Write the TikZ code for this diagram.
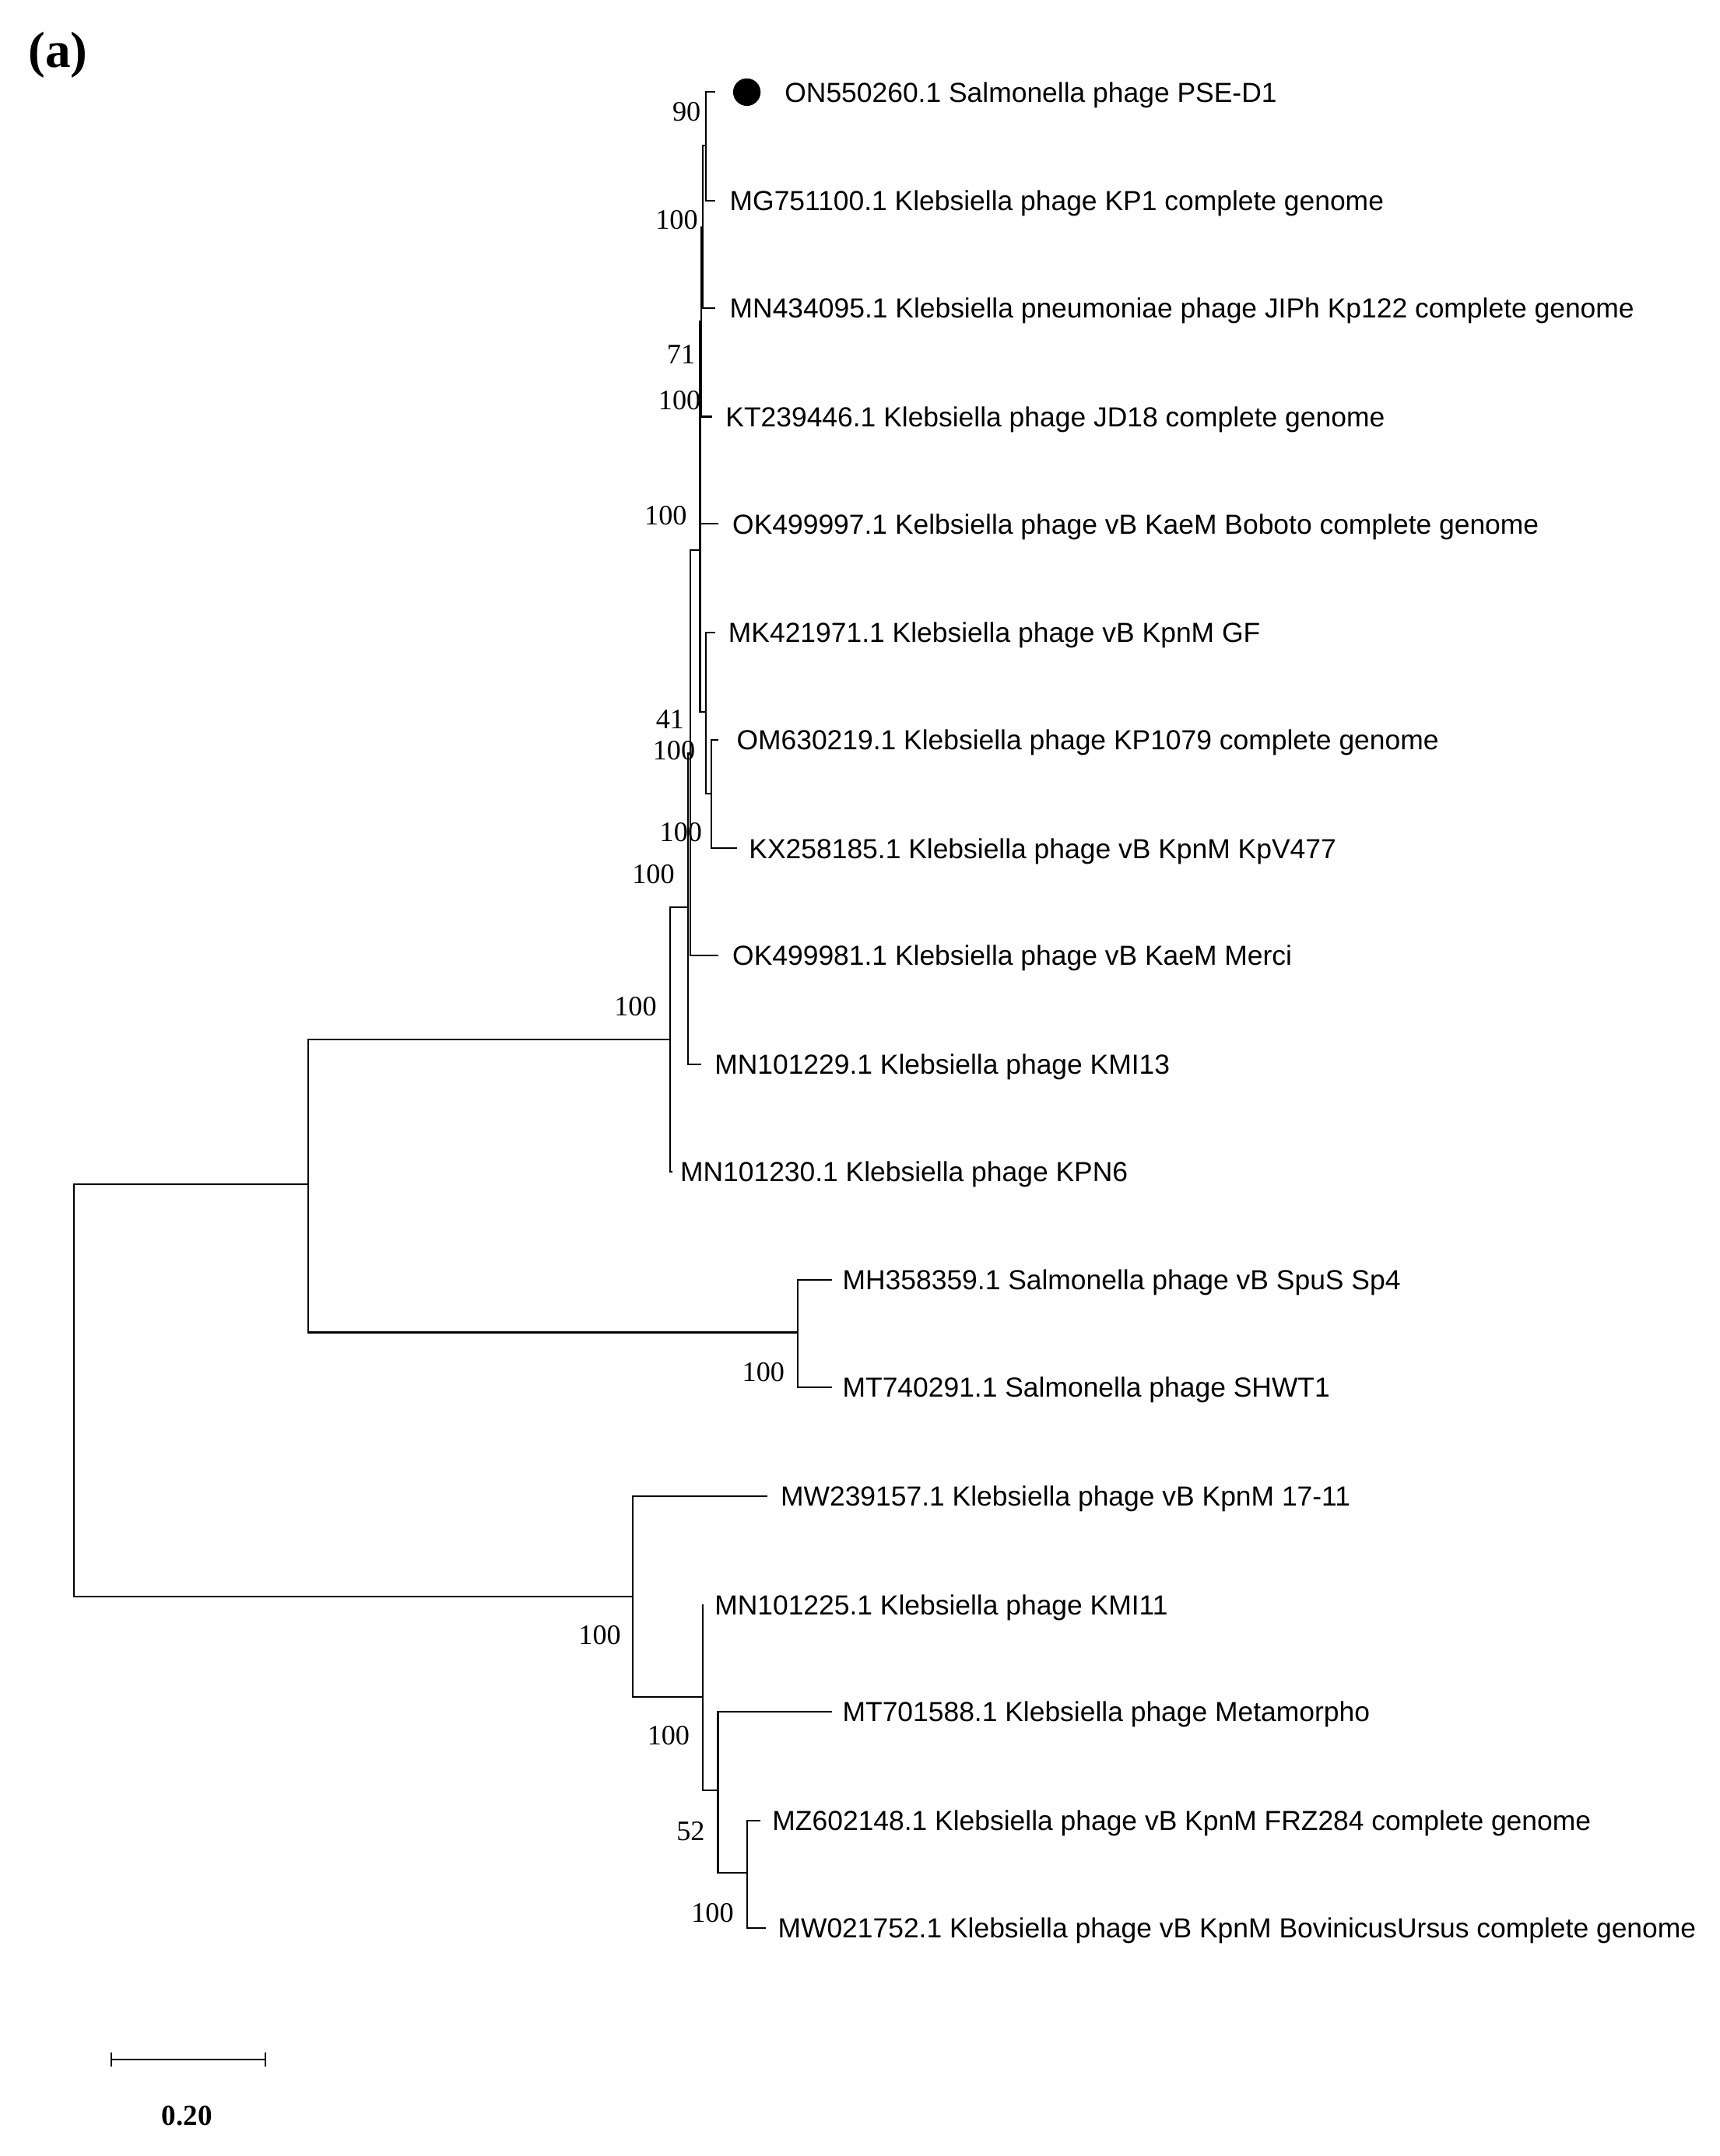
\documentclass[tikz,border=0pt]{standalone}
\usepackage{fontspec}
\setmainfont{Liberation Serif}
\newfontfamily\lab{Liberation Sans}
\begin{document}
\begin{tikzpicture}[x=1pt,y=-1pt,line width=1.2pt,
  leaf/.style={anchor=west,inner sep=0pt,yshift=-2pt,font=\lab\fontsize{20.05}{22}\selectfont},
  bs/.style={anchor=east,inner sep=0pt,yshift=-1pt,font=\fontsize{20.5}{22}\selectfont}]
\useasboundingbox (0,0) rectangle (1250,1568);
\node[anchor=west,inner sep=0pt,font=\bfseries\fontsize{37}{40}\selectfont] (tag) at (20,40) {(a)};
% leaves
\node[leaf] (l1) at (570,67) {ON550260.1 Salmonella phage PSE-D1};
\fill (543,67) circle (10);
\node[leaf] (l2) at (530,146) {MG751100.1 Klebsiella phage KP1 complete genome};
\node[leaf] (l3) at (530,224) {MN434095.1 Klebsiella pneumoniae phage JIPh Kp122 complete genome};
\node[leaf] (l4) at (527,303) {KT239446.1 Klebsiella phage JD18 complete genome};
\node[leaf] (l5) at (532,381) {OK499997.1 Kelbsiella phage vB KaeM Boboto complete genome};
\node[leaf] (l6) at (529,460) {MK421971.1 Klebsiella phage vB KpnM GF};
\node[leaf] (l7) at (535,538) {OM630219.1 Klebsiella phage KP1079 complete genome};
\node[leaf] (l8) at (544,617) {KX258185.1 Klebsiella phage vB KpnM KpV477};
\node[leaf] (l9) at (532,695) {OK499981.1 Klebsiella phage vB KaeM Merci};
\node[leaf] (l10) at (519,774) {MN101229.1 Klebsiella phage KMI13};
\node[leaf] (l11) at (494,852) {MN101230.1 Klebsiella phage KPN6};
\node[leaf] (l12) at (612,931) {MH358359.1 Salmonella phage vB SpuS Sp4};
\node[leaf] (l13) at (612,1009) {MT740291.1 Salmonella phage SHWT1};
\node[leaf] (l14) at (567,1088) {MW239157.1 Klebsiella phage vB KpnM 17-11};
\node[leaf] (l15) at (519,1167) {MN101225.1 Klebsiella phage KMI11};
\node[leaf] (l16) at (612,1245) {MT701588.1 Klebsiella phage Metamorpho};
\node[leaf] (l17) at (561,1324) {MZ602148.1 Klebsiella phage vB KpnM FRZ284 complete genome};
\node[leaf] (l18) at (565,1402) {MW021752.1 Klebsiella phage vB KpnM BovinicusUrsus complete genome};
% tree
\draw (520,67) -| (513,146) -- (520,146);
\draw (513,106) -| (511,224) -- (520,224);
\draw (511,165) -| (510,303) -- (518,303);
\draw (510,234) -| (509,381) -- (522,381);
\draw (522,538) -| (517,617) -- (536,617);
\draw (520,460) -| (513,577) -- (517,577);
\draw (509,307) -- (509,518) -- (513,518);
\draw (509,400) -| (502,695) -- (522,695);
\draw (502,548) -| (500,774) -- (510,774);
\draw (500,660) -| (487,852) -- (489,852);
\draw (605,931) -| (580,1009) -- (605,1009);
\draw (487,756) -| (224,969) -- (580,969);
\draw (553,1324) -| (543,1402) -- (557,1402);
\draw (605,1245) -| (522,1362) -- (543,1362);
\draw (511,1167) -- (511,1302) -- (522,1302);
\draw (558,1088) -| (460,1234) -- (511,1234);
\draw (224,861) -| (54,1161) -- (460,1161);
% bootstrap
\node[bs] (b1) at (510,80) {90};
\node[bs] (b2) at (508,159) {100};
\node[bs] (b3) at (506,257) {71};
\node[bs] (b4) at (510,290) {100};
\node[bs] (b5) at (500,374) {100};
\node[bs] (b6) at (498,522) {41};
\node[bs] (b7) at (506,545) {100};
\node[bs] (b8) at (511,604) {100};
\node[bs] (b9) at (491,635) {100};
\node[bs] (b10) at (478,731) {100};
\node[bs] (b11) at (571,997) {100};
\node[bs] (b12) at (452,1188) {100};
\node[bs] (b13) at (502,1261) {100};
\node[bs] (b14) at (513,1331) {52};
\node[bs] (b15) at (534,1390) {100};
% scale
\draw (81,1493) -- (81,1503) (81,1498) -- (193,1498) (193,1493) -- (193,1503);
\node[inner sep=0pt,font=\bfseries\fontsize{21}{23}\selectfont] (sc) at (136,1539) {0.20};
\end{tikzpicture}
\end{document}
